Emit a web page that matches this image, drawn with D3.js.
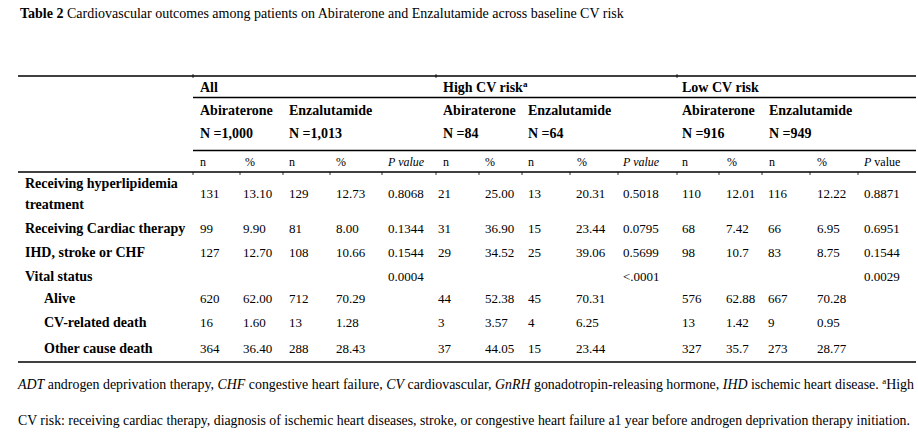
<!DOCTYPE html>
<html>
<head>
<meta charset="utf-8">
<script src="https://cdn.jsdelivr.net/npm/d3@7"></script>
<style>
    body { margin: 0; background: #fff; }
    svg text { font-family: 'Liberation Serif', 'Times New Roman', serif; fill: #000; }
</style>
</head>
<body>
<div id="chart"></div>
<script>

// table 2 - cardiovascular outcomes, abiraterone vs enzalutamide

const titleBold = 'Table 2';
const titleText = 'Cardiovascular outcomes among patients on Abiraterone and Enzalutamide across baseline CV risk';

const groups = ['All', 'High CV risk', 'Low CV risk'];
const groupSup = ['', 'a', ''];
const drugs = ['Abiraterone', 'Enzalutamide'];
const groupN = [['1,000', '1,013'], ['84', '64'], ['916', '949']];
const subHeads = ['n', '%', 'n', '%', 'P value'];

const rowLabels = [
    ['Receiving hyperlipidemia', 'treatment'],
    ['Receiving Cardiac therapy'],
    ['IHD, stroke or CHF'],
    ['Vital status'],
    ['Alive'],
    ['CV-related death'],
    ['Other cause death']
];
const rowIndent = [false, false, false, false, true, true, true];

// All
const allAbiN   = ['131', '99', '127', '', '620', '16', '364'];
const allAbiPct = ['13.10', '9.90', '12.70', '', '62.00', '1.60', '36.40'];
const allEnzN   = ['129', '81', '108', '', '712', '13', '288'];
const allEnzPct = ['12.73', '8.00', '10.66', '', '70.29', '1.28', '28.43'];
const allP      = ['0.8068', '0.1344', '0.1544', '0.0004', '', '', ''];

// High CV risk
const highAbiN   = ['21', '31', '29', '', '44', '3', '37'];
const highAbiPct = ['25.00', '36.90', '34.52', '', '52.38', '3.57', '44.05'];
const highEnzN   = ['13', '15', '25', '', '45', '4', '15'];
const highEnzPct = ['20.31', '23.44', '39.06', '', '70.31', '6.25', '23.44'];
const highP      = ['0.5018', '0.0795', '0.5699', '<.0001', '', '', ''];

// Low CV risk
const lowAbiN   = ['110', '68', '98', '', '576', '13', '327'];
const lowAbiPct = ['12.01', '7.42', '10.7', '', '62.88', '1.42', '35.7'];
const lowEnzN   = ['116', '66', '83', '', '667', '9', '273'];
const lowEnzPct = ['12.22', '6.95', '8.75', '', '70.28', '0.95', '28.77'];
const lowP      = ['0.8871', '0.6951', '0.1544', '0.0029', '', '', ''];

const footLine1 = [
    ['ADT', true], [' androgen deprivation therapy, ', false],
    ['CHF', true], [' congestive heart failure, ', false],
    ['CV', true], [' cardiovascular, ', false],
    ['GnRH', true], [' gonadotropin-releasing hormone, ', false],
    ['IHD', true], [' ischemic heart disease. ', false]
];
const footLine2 = 'CV risk: receiving cardiac therapy, diagnosis of ischemic heart diseases, stroke, or congestive heart failure a1 year before androgen deprivation therapy initiation.';

const columns = [
    allAbiN, allAbiPct, allEnzN, allEnzPct, allP,
    highAbiN, highAbiPct, highEnzN, highEnzPct, highP,
    lowAbiN, lowAbiPct, lowEnzN, lowEnzPct, lowP
];


let width = 918, height = 445;

let svg = d3.select('#chart').append('svg')
    .attr('width', width)
    .attr('height', height);

svg.append('rect')
    .attr('width', width)
    .attr('height', height)
    .attr('fill', '#fff');

// scales
let colBounds = d3.scaleOrdinal()
    .domain(d3.range(16))
    .range([193, 240, 283, 330, 382, 436, 479, 522, 570, 618, 677, 719, 762, 810, 858, 916]);

let colX = d3.scaleOrdinal()
    .domain(d3.range(15))
    .range([200, 243, 289, 336, 388, 438, 485, 528, 576, 623, 682, 726, 768, 817, 864]);

let headX = d3.scaleOrdinal()
    .domain(d3.range(15))
    .range([200, 245, 289, 336, 388, 443, 485, 528, 577, 623, 682, 727, 769, 817, 864]);

let rowY = d3.scaleOrdinal()
    .domain(d3.range(rowLabels.length))
    .range([198, 233, 257, 281, 303, 327, 353]);

let lineY = {top: 76, group: 97.5, n: 150.5, sub: 172, bottom: 362};
let left = 18, right = 916;

// title
let title = svg.append('text')
    .attr('x', 20)
    .attr('y', 18)
    .style('font-size', '14px');
title.append('tspan').style('font-weight', 700).text(titleBold + ' ');
title.append('tspan').text(titleText);

// rules
let rules = [
    [left, lineY.top], [colBounds(0), lineY.group], [colBounds(0), lineY.n],
    [left, lineY.sub], [left, lineY.bottom]
];
svg.selectAll('.rule')
    .data(rules)
    .enter()
    .append('line')
    .attr('class', 'rule')
    .attr('x1', d => d[0])
    .attr('x2', right)
    .attr('y1', d => d[1])
    .attr('y2', d => d[1])
    .attr('stroke', '#000')
    .attr('stroke-width', 1.3);

// little cell border ticks
svg.selectAll('.tick-top')
    .data([0, 5, 10])
    .enter()
    .append('line')
    .attr('x1', d => colBounds(d))
    .attr('x2', d => colBounds(d))
    .attr('y1', lineY.top - 2)
    .attr('y2', lineY.top + 2)
    .attr('stroke', '#000')
    .attr('stroke-width', 0.8);

svg.selectAll('.tick-sub')
    .data(d3.range(15))
    .enter()
    .append('line')
    .attr('x1', d => colBounds(d))
    .attr('x2', d => colBounds(d))
    .attr('y1', lineY.sub)
    .attr('y2', lineY.sub + 3)
    .attr('stroke', '#000')
    .attr('stroke-width', 0.8);

// group headers
let gh = svg.selectAll('.group-head')
    .data(groups)
    .enter()
    .append('text')
    .attr('class', 'group-head')
    .attr('x', (d, i) => headX(i * 5))
    .attr('y', 92)
    .style('font-size', '14px')
    .style('font-weight', 700);
gh.append('tspan').text(d => d);
gh.append('tspan')
    .attr('dy', -5)
    .style('font-size', '9px')
    .text((d, i) => groupSup[i]);

// drug names and N
groups.forEach(function(g, gi) {
    drugs.forEach(function(dr, di) {
        let x = headX(gi * 5 + di * 2);
        svg.append('text')
            .attr('x', x)
            .attr('y', 115)
            .style('font-size', '14px')
            .style('font-weight', 700)
            .text(dr);
        svg.append('text')
            .attr('x', x)
            .attr('y', 138)
            .style('font-size', '14px')
            .style('font-weight', 700)
            .text('N =' + groupN[gi][di]);
    });

    subHeads.forEach(function(s, si) {
        let t = svg.append('text')
            .attr('x', headX(gi * 5 + si))
            .attr('y', 166)
            .style('font-size', '12px');
        if (si === 4) {
            t.append('tspan').style('font-style', 'italic').text('P');
            t.append('tspan').style('font-style', gi < 2 ? 'italic' : 'normal').text(' value');
        } else {
            t.text(s);
        }
    });
});

// row labels
rowLabels.forEach(function(lines, ri) {
    let y0 = rowY(ri) - (lines.length - 1) * 10.5;
    lines.forEach(function(l, li) {
        svg.append('text')
            .attr('x', rowIndent[ri] ? 44 : 25)
            .attr('y', y0 + li * 21)
            .style('font-size', '14px')
            .style('font-weight', 700)
            .text(l);
    });
});

// cells
columns.forEach(function(col, ci) {
    svg.selectAll('.cell-' + ci)
        .data(col)
        .enter()
        .append('text')
        .attr('class', 'cell-' + ci)
        .attr('x', colX(ci))
        .attr('y', (d, i) => rowY(i))
        .style('font-size', '13px')
        .text(d => d);
});

// footnotes
let f1 = svg.append('text')
    .attr('x', 18)
    .attr('y', 389)
    .attr('textLength', 896)
    .attr('lengthAdjust', 'spacingAndGlyphs')
    .style('font-size', '14px');
footLine1.forEach(function(p) {
    f1.append('tspan').style('font-style', p[1] ? 'italic' : 'normal').text(p[0]);
});
f1.append('tspan').attr('dy', -5).style('font-size', '9px').text('a');
f1.append('tspan').attr('dy', 5).text('High');

svg.append('text')
    .attr('x', 18)
    .attr('y', 425)
    .style('font-size', '13.8px')
    .text(footLine2);

</script>
</body>
</html>
